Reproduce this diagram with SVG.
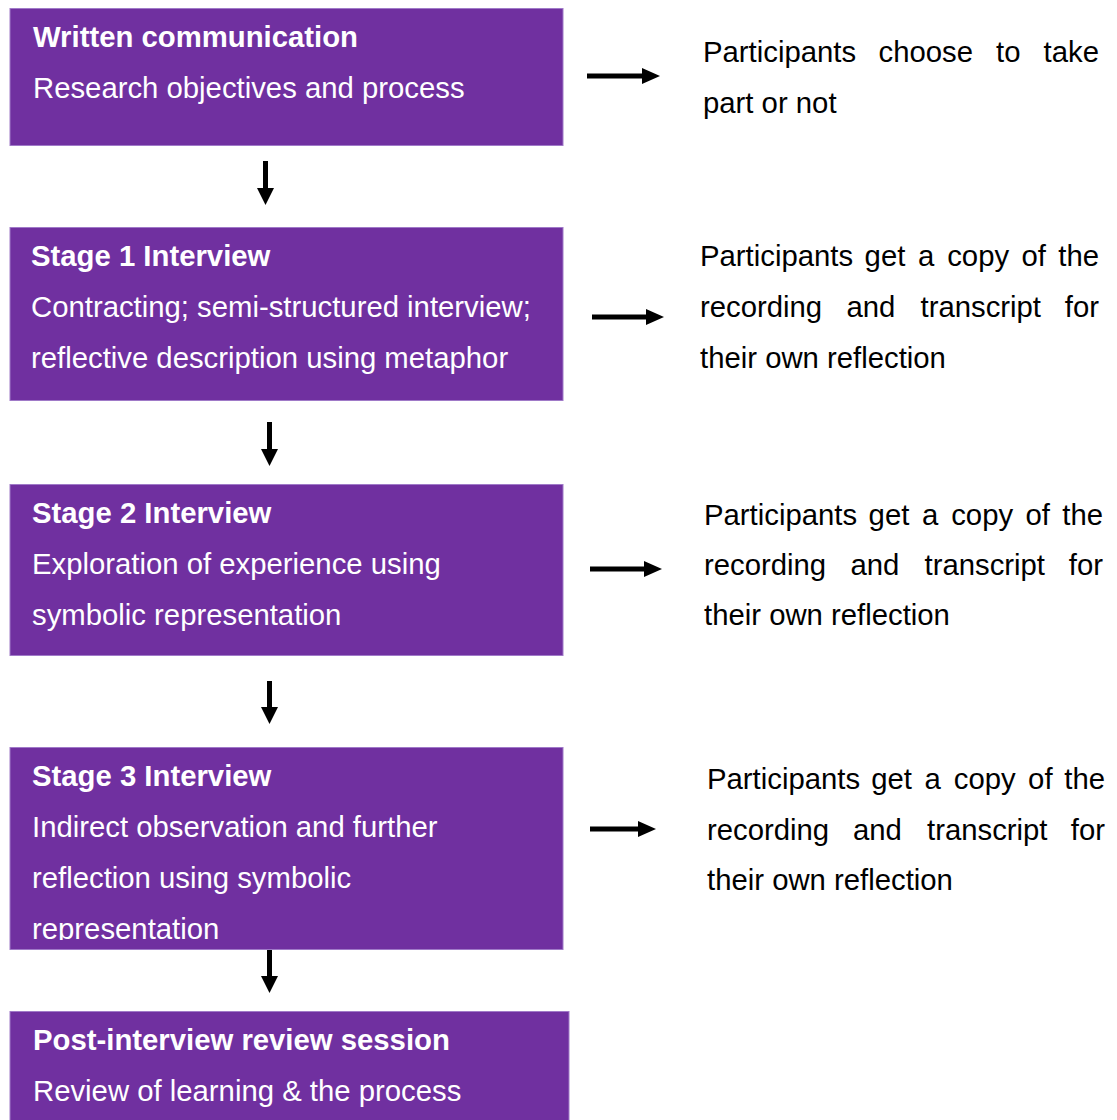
<svg xmlns="http://www.w3.org/2000/svg" width="1117" height="1120" viewBox="0 0 1117 1120">
  <style>
    .box { fill: #7030A0; stroke: #A07AC8; stroke-width: 1; }
    .head { font-family: "Liberation Sans", Arial, sans-serif; font-size: 29.3px; font-weight: bold; fill: #ffffff; }
    .body { font-family: "Liberation Sans", Arial, sans-serif; font-size: 29.3px; fill: #ffffff; }
    .note { font-family: "Liberation Sans", Arial, sans-serif; font-size: 29.3px; fill: #000000; }
    .arrow { fill: #000000; }
  </style>
  <defs>
    <clipPath id="clip-stage3">
      <rect x="10" y="747" width="553" height="193"/>
    </clipPath>
  </defs>

  <!-- Process steps -->
  <g id="written-communication">
    <rect class="box" x="10" y="8.5" width="553" height="137"/>
    <text class="head" x="33" y="47">Written communication</text>
    <text class="body" x="33" y="98">Research objectives and process</text>
  </g>

  <g id="stage-1">
    <rect class="box" x="10" y="227.5" width="553" height="173"/>
    <text class="head" x="31" y="266">Stage 1 Interview</text>
    <text class="body" x="31" y="317">Contracting; semi-structured interview;</text>
    <text class="body" x="31" y="368">reflective description using metaphor</text>
  </g>

  <g id="stage-2">
    <rect class="box" x="10" y="484.5" width="553" height="171"/>
    <text class="head" x="32" y="523">Stage 2 Interview</text>
    <text class="body" x="32" y="574">Exploration of experience using</text>
    <text class="body" x="32" y="625">symbolic representation</text>
  </g>

  <g id="stage-3">
    <rect class="box" x="10" y="747.5" width="553" height="202"/>
    <g clip-path="url(#clip-stage3)">
      <text class="head" x="32" y="786">Stage 3 Interview</text>
      <text class="body" x="32" y="837">Indirect observation and further</text>
      <text class="body" x="32" y="888">reflection using symbolic</text>
      <text class="body" x="32" y="939">representation</text>
    </g>
  </g>

  <g id="post-interview">
    <rect class="box" x="10" y="1011.5" width="559" height="120"/>
    <text class="head" x="33" y="1050">Post-interview review session</text>
    <text class="body" x="33" y="1101">Review of learning &amp; the process</text>
  </g>

  <!-- Outcomes (justified lines) -->
  <g id="outcome-1">
    <text class="note" y="62">
      <tspan x="703">Participants</tspan><tspan x="878.5">choose</tspan><tspan x="996">to</tspan><tspan x="1099" text-anchor="end">take</tspan>
    </text>
    <text class="note" x="703" y="113">part or not</text>
  </g>

  <g id="outcome-2">
    <text class="note" y="266">
      <tspan x="700">Participants</tspan><tspan x="864.6">get</tspan><tspan x="918">a</tspan><tspan x="947.2">copy</tspan><tspan x="1021.5">of</tspan><tspan x="1099" text-anchor="end">the</tspan>
    </text>
    <text class="note" y="317">
      <tspan x="700">recording</tspan><tspan x="846.5">and</tspan><tspan x="920.5">transcript</tspan><tspan x="1099" text-anchor="end">for</tspan>
    </text>
    <text class="note" x="700" y="368">their own reflection</text>
  </g>

  <g id="outcome-3">
    <text class="note" y="525">
      <tspan x="704">Participants</tspan><tspan x="868.6">get</tspan><tspan x="922">a</tspan><tspan x="951.2">copy</tspan><tspan x="1025.5">of</tspan><tspan x="1103" text-anchor="end">the</tspan>
    </text>
    <text class="note" y="575">
      <tspan x="704">recording</tspan><tspan x="850.5">and</tspan><tspan x="924.5">transcript</tspan><tspan x="1103" text-anchor="end">for</tspan>
    </text>
    <text class="note" x="704" y="625">their own reflection</text>
  </g>

  <g id="outcome-4">
    <text class="note" y="789">
      <tspan x="707">Participants</tspan><tspan x="871.2">get</tspan><tspan x="924.6">a</tspan><tspan x="953.8">copy</tspan><tspan x="1028.1">of</tspan><tspan x="1105" text-anchor="end">the</tspan>
    </text>
    <text class="note" y="840">
      <tspan x="707">recording</tspan><tspan x="853">and</tspan><tspan x="927">transcript</tspan><tspan x="1105" text-anchor="end">for</tspan>
    </text>
    <text class="note" x="707" y="890">their own reflection</text>
  </g>

  <!-- Connectors -->
  <g id="connectors">
    <!-- downward flow -->
    <path class="arrow" d="M263 161 H268 V188 H274 L265.5 205 L257 188 H263 Z"/>
    <path class="arrow" d="M267 422 H272 V449 H278 L269.5 466 L261 449 H267 Z"/>
    <path class="arrow" d="M267 681 H272 V707 H278 L269.5 724 L261 707 H267 Z"/>
    <path class="arrow" d="M267 950 H272 V976 H278 L269.5 993 L261 976 H267 Z"/>
    <!-- outcome arrows -->
    <path class="arrow" d="M587 73.5 H642 V68 L660 76 L642 84 V78.5 H587 Z"/>
    <path class="arrow" d="M592 314.5 H646 V309 L664 317 L646 325 V319.5 H592 Z"/>
    <path class="arrow" d="M590 566.5 H644 V561 L662 569 L644 577 V571.5 H590 Z"/>
    <path class="arrow" d="M590 826.5 H638 V821 L656 829 L638 837 V831.5 H590 Z"/>
  </g>
</svg>
